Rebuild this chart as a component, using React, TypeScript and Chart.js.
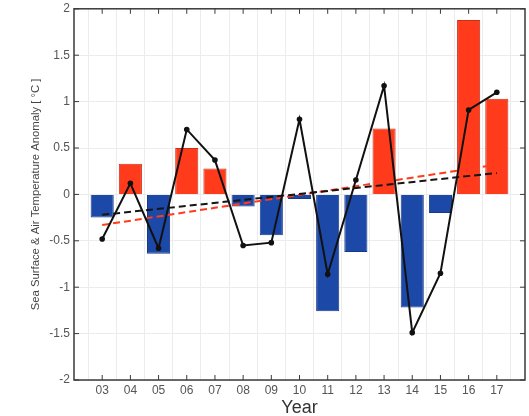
import React, { useEffect, useRef } from 'react';
import { Chart, registerables } from 'chart.js';
Chart.register(...registerables);

const years = ['03', '04', '05', '06', '07', '08', '09', '10', '11', '12', '13', '14', '15', '16', '17'];
const seaSurfaceBars = [-0.25, 0.33, -0.64, 0.5, 0.28, -0.13, -0.44, -0.05, -1.26, -0.62, 0.71, -1.22, -0.2, 1.88, 1.03];
const airTempLine = [-0.48, 0.12, -0.58, 0.7, 0.37, -0.55, -0.52, 0.81, -0.86, 0.155, 1.17, -1.49, -0.85, 0.91, 1.1];
const trendBlackEnds = [-0.22, 0.23];
const trendRedEnds = [-0.33, 0.32];
const yTickValues = [-2, -1.5, -1, -0.5, 0, 0.5, 1, 1.5, 2];

const RED = '#ff3b1c';
const RED_EDGE = '#c8301a';
const BLUE = '#1c48a8';
const BLUE_EDGE = '#163a88';

const labels = ['', ...years, ''];
const pad = (arr: (number | null)[]) => [null, ...arr, null];
const trend = (ends: number[]) => pad(years.map((_, i) => (i === 0 ? ends[0] : i === years.length - 1 ? ends[1] : null)));

const framePlugin = {
  id: 'frame',
  afterDraw(chart: any) {
    const { ctx, chartArea } = chart;
    const { left, right, top, bottom } = chartArea;
    const xs = chart.scales.x;
    const ys = chart.scales.y;
    ctx.save();
    ctx.strokeStyle = '#3a3a3a';
    ctx.lineWidth = 1.5;
    ctx.strokeRect(left, top, right - left, bottom - top);
    ctx.lineWidth = 1;
    const tl = 5;
    ctx.beginPath();
    for (let i = 1; i <= years.length; i++) {
      const px = xs.getPixelForValue(i);
      ctx.moveTo(px, bottom);
      ctx.lineTo(px, bottom - tl);
      ctx.moveTo(px, top);
      ctx.lineTo(px, top + tl);
    }
    for (const v of yTickValues) {
      const py = ys.getPixelForValue(v);
      ctx.moveTo(left, py);
      ctx.lineTo(left + tl, py);
      ctx.moveTo(right, py);
      ctx.lineTo(right - tl, py);
    }
    ctx.stroke();

    ctx.fillStyle = '#333';
    ctx.textAlign = 'center';
    ctx.textBaseline = 'middle';
    ctx.font = '18px "Liberation Sans", Arial, sans-serif';
    ctx.fillText('Year', (left + right) / 2, 408);

    ctx.fillStyle = '#444';
    ctx.font = '11.3px "Liberation Sans", Arial, sans-serif';
    ctx.translate(36, (top + bottom) / 2);
    ctx.rotate(-Math.PI / 2);
    ctx.fillText('Sea Surface & Air Temperature Anomaly [ °C ]', 0, 0);
    ctx.restore();
  },
};

export default function App() {
  const ref = useRef<HTMLCanvasElement | null>(null);
  useEffect(() => {
    document.body.style.margin = '0';
    const canvas = ref.current!;
    const chart = new Chart(canvas, {
      type: 'bar',
      data: {
        labels,
        datasets: [
          {
            type: 'line',
            label: 'Anomaly',
            data: pad(airTempLine),
            borderColor: '#111',
            backgroundColor: '#111',
            borderWidth: 2,
            pointRadius: 2.8,
            pointBackgroundColor: '#111',
            pointBorderWidth: 0,
            tension: 0,
            spanGaps: false,
            order: 1,
          } as any,
          {
            type: 'line',
            label: 'Trend black',
            data: trend(trendBlackEnds),
            borderColor: '#151515',
            borderWidth: 2,
            borderDash: [7, 4],
            pointRadius: 0,
            spanGaps: true,
            order: 2,
          } as any,
          {
            type: 'line',
            label: 'Trend red',
            data: trend(trendRedEnds),
            borderColor: RED,
            borderWidth: 2,
            borderDash: [7, 4],
            pointRadius: 0,
            spanGaps: true,
            order: 3,
          } as any,
          {
            type: 'bar',
            label: 'Bars',
            data: pad(seaSurfaceBars),
            backgroundColor: pad(seaSurfaceBars).map((v) => ((v ?? 0) >= 0 ? RED : BLUE)),
            borderColor: pad(seaSurfaceBars).map((v) => ((v ?? 0) >= 0 ? RED_EDGE : BLUE_EDGE)),
            borderWidth: 1,
            barPercentage: 0.82,
            categoryPercentage: 1,
            order: 4,
          } as any,
        ],
      },
      options: {
        responsive: false,
        animation: false,
        layout: { padding: { left: 0, top: 5, right: 3, bottom: 0 } },
        plugins: { legend: { display: false }, tooltip: { enabled: false } },
        scales: {
          x: {
            type: 'category',
            offset: false,
            grid: { color: '#ececec', drawTicks: false, lineWidth: 1 },
            border: { display: false },
            ticks: {
              autoSkip: false,
              maxRotation: 0,
              padding: 3,
              color: '#555',
              font: { family: '"Liberation Sans", Arial, sans-serif', size: 12 },
            },
            afterFit: (s: any) => {
              s.height = 36;
            },
          },
          y: {
            type: 'linear',
            min: -2,
            max: 2,
            grid: { color: '#ececec', drawTicks: false, lineWidth: 1 },
            border: { display: false },
            ticks: {
              stepSize: 0.5,
              padding: 4,
              color: '#555',
              font: { family: '"Liberation Sans", Arial, sans-serif', size: 12, lineHeight: 0.8 },
              callback: (v: any) => String(v),
            },
            afterFit: (s: any) => {
              s.width = 74;
            },
          },
        },
      } as any,
      plugins: [framePlugin],
    });
    return () => chart.destroy();
  }, []);
  return <canvas ref={ref} width={529} height={416} style={{ display: 'block' }} />;
}
